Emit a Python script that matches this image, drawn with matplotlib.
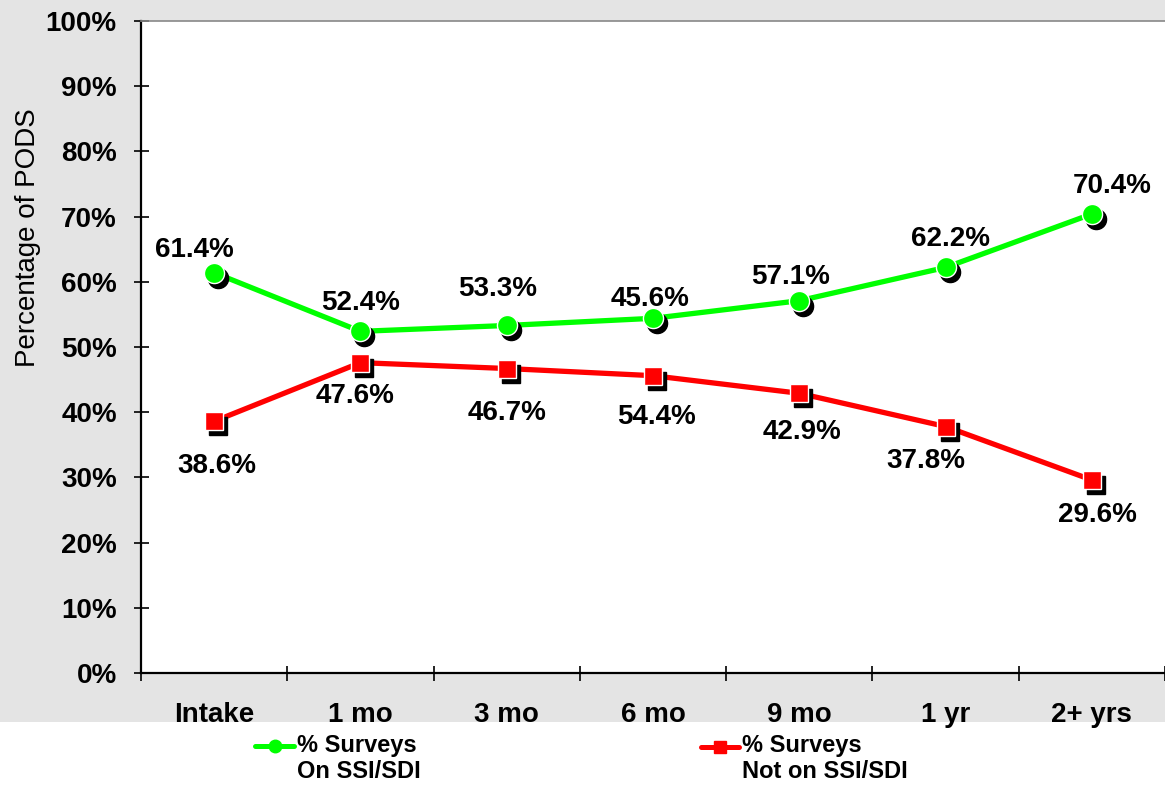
import numpy as np
import matplotlib.pyplot as plt
from matplotlib.lines import Line2D
from matplotlib.patches import Rectangle
from matplotlib.transforms import offset_copy

plt.rcParams['font.family'] = ['Liberation Sans', 'DejaVu Sans']

categories = ['Intake', '1 mo', '3 mo', '6 mo', '9 mo', '1 yr', '2+ yrs']
on_ssi = [61.4, 52.4, 53.3, 54.4, 57.1, 62.2, 70.4]
not_on_ssi = [38.6, 47.6, 46.7, 45.6, 42.9, 37.8, 29.6]
# labels as printed on the chart (6 mo labels are swapped in the original)
on_labels = ['61.4%', '52.4%', '53.3%', '45.6%', '57.1%', '62.2%', '70.4%']
not_labels = ['38.6%', '47.6%', '46.7%', '54.4%', '42.9%', '37.8%', '29.6%']
legend_on = '% Surveys\nOn SSI/SDI'
legend_not = '% Surveys\nNot on SSI/SDI'

GREEN = '#00ff00'
RED = '#ff0000'
PX = 0.72  # points per pixel at dpi 100

fig = plt.figure(figsize=(11.65, 7.89), dpi=100, facecolor='white')
fig.add_artist(Rectangle((0, 1 - 722 / 789), 1, 722 / 789, transform=fig.transFigure,
                         facecolor='#e4e4e4', edgecolor='none', zorder=-10))

ax = fig.add_axes([141 / 1165, 1 - 673 / 789, 1 - 141 / 1165, (673 - 21) / 789])
ax.set_facecolor('white')

x = np.arange(len(categories))

# drop shadows for the markers
shadow = offset_copy(ax.transData, fig=fig, x=4, y=-5, units='dots')
ax.plot(x, on_ssi, 'o', color='black', ms=14.5, transform=shadow, zorder=3, clip_on=False)
ax.plot(x, not_on_ssi, 's', color='black', ms=13.5, transform=shadow, zorder=3, clip_on=False)

ax.plot(x, on_ssi, '-', color=GREEN, lw=3.8, zorder=2)
ax.plot(x, not_on_ssi, '-', color=RED, lw=3.8, zorder=2)
ax.plot(x, on_ssi, 'o', color=GREEN, ms=14.5, mec='white', mew=1, zorder=4, clip_on=False)
ax.plot(x, not_on_ssi, 's', color=RED, ms=13.5, mec='white', mew=1, zorder=4, clip_on=False)

# label offsets in pixels (dx, dy) relative to each point
on_off = [(-20, 23), (0, 28), (-9, 36), (-3, 19), (-9, 24), (5, 28), (20, 28)]
not_off = [(3, -45), (-5, -33), (0, -44), (4, -41), (3, -39), (-20, -34), (6, -35)]
for i in range(len(categories)):
    ax.annotate(on_labels[i], (x[i], on_ssi[i]), xytext=(on_off[i][0] * PX, on_off[i][1] * PX),
                textcoords='offset points', ha='center', va='center',
                fontsize=20, fontweight='bold', zorder=5)
    ax.annotate(not_labels[i], (x[i], not_on_ssi[i]), xytext=(not_off[i][0] * PX, not_off[i][1] * PX),
                textcoords='offset points', ha='center', va='center',
                fontsize=20, fontweight='bold', zorder=5)

ax.set_xlim(-0.5, len(categories) - 0.5)
ax.set_ylim(0, 100)
ax.set_yticks(np.arange(0, 101, 10))
ax.set_yticklabels([f'{v}%' for v in range(0, 101, 10)])
ax.set_xticks(np.arange(-0.5, len(categories), 1))
ax.set_xticklabels([])
ax.set_xticks(x, minor=True)
ax.set_xticklabels(categories, minor=True)

ax.tick_params(axis='y', direction='inout', length=15 * PX, width=1.2, pad=12,
               labelsize=20)
ax.tick_params(axis='x', which='major', direction='inout', length=15 * PX, width=1.2)
ax.tick_params(axis='x', which='minor', length=0, pad=21, labelsize=20)
for lab in ax.get_yticklabels() + ax.get_xticklabels(minor=True):
    lab.set_fontweight('bold')

ax.spines['left'].set_linewidth(1.6)
ax.spines['bottom'].set_linewidth(1.6)
ax.spines['top'].set_color('#888888')
ax.spines['top'].set_linewidth(1.2)
ax.spines['right'].set_visible(False)

ax.set_ylabel('Percentage of PODS', fontsize=20)
ax.yaxis.set_label_coords(-100 / 1024, (673 - 238) / 652)


def legend_entry(x0, x1, y, color, marker, ms, text):
    W, H = 1165, 789
    xs = [x0 / W, (x0 + x1) / 2 / W, x1 / W]
    ys = [1 - y / H] * 3
    fig.add_artist(Line2D(xs, ys, transform=fig.transFigure, color=color, lw=3.6,
                          marker=marker, ms=ms, markevery=[1], solid_capstyle='round'))
    fig.text((x1 + 3) / W, 1 - 734 / H, text, ha='left', va='top', fontsize=17,
             fontweight='bold', linespacing=1.15)


legend_entry(255, 294, 746, GREEN, 'o', 9, legend_on)
legend_entry(701, 739, 747, RED, 's', 9, legend_not)

fig.savefig('out.png', dpi=100, facecolor=fig.get_facecolor())
